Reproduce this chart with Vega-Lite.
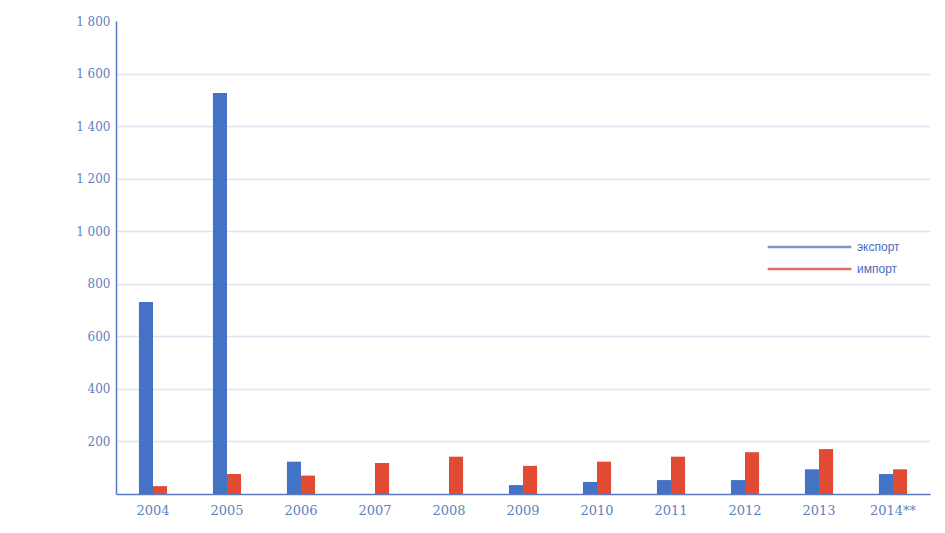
{
  "$schema": "https://vega.github.io/schema/vega-lite/v6.json",
  "width": 814,
  "height": 473,
  "autosize": "none",
  "padding": {"left": 116, "top": 21, "right": 15, "bottom": 39},
  "background": "white",
  "data": {
    "values": [
      {"year": "2004", "type": "экспорт", "value": 731},
      {"year": "2004", "type": "импорт", "value": 30},
      {"year": "2005", "type": "экспорт", "value": 1526},
      {"year": "2005", "type": "импорт", "value": 76},
      {"year": "2006", "type": "экспорт", "value": 123},
      {"year": "2006", "type": "импорт", "value": 70},
      {"year": "2007", "type": "экспорт", "value": 0},
      {"year": "2007", "type": "импорт", "value": 118},
      {"year": "2008", "type": "экспорт", "value": 0},
      {"year": "2008", "type": "импорт", "value": 142},
      {"year": "2009", "type": "экспорт", "value": 34},
      {"year": "2009", "type": "импорт", "value": 107},
      {"year": "2010", "type": "экспорт", "value": 46},
      {"year": "2010", "type": "импорт", "value": 123},
      {"year": "2011", "type": "экспорт", "value": 53},
      {"year": "2011", "type": "импорт", "value": 142},
      {"year": "2012", "type": "экспорт", "value": 53},
      {"year": "2012", "type": "импорт", "value": 159},
      {"year": "2013", "type": "экспорт", "value": 94},
      {"year": "2013", "type": "импорт", "value": 171},
      {"year": "2014**", "type": "экспорт", "value": 76},
      {"year": "2014**", "type": "импорт", "value": 94}
    ]
  },
  "mark": {"type": "bar"},
  "encoding": {
    "x": {
      "field": "year",
      "type": "nominal",
      "sort": null,
      "scale": {"paddingInner": 0.62, "paddingOuter": 0.31},
      "axis": {
        "title": null,
        "labelAngle": 0,
        "labelFont": "DejaVu Serif",
        "labelFontSize": 13,
        "labelColor": "#5f7fc0",
        "labelPadding": 10,
        "ticks": false,
        "domainColor": "#5b78c0",
        "domainWidth": 1.5,
        "grid": false
      }
    },
    "xOffset": {
      "field": "type",
      "type": "nominal",
      "sort": ["экспорт", "импорт"],
      "scale": {"paddingInner": 0, "paddingOuter": 0}
    },
    "y": {
      "field": "value",
      "type": "quantitative",
      "scale": {"domain": [0, 1800], "nice": false},
      "axis": {
        "title": null,
        "values": [200, 400, 600, 800, 1000, 1200, 1400, 1600, 1800],
        "labelExpr": "replace(format(datum.value, ','), ',', ' ')",
        "labelFont": "DejaVu Serif",
        "labelFontSize": 12,
        "labelColor": "#5f7fc0",
        "labelPadding": 6,
        "ticks": false,
        "domainColor": "#5b78c0",
        "domainWidth": 1.5,
        "grid": true,
        "gridColor": "#dfe4f0",
        "gridWidth": 1.5,
        "gridOpacity": {"condition": {"test": "datum.value == 1800", "value": 0}, "value": 1}
      }
    },
    "color": {
      "field": "type",
      "type": "nominal",
      "scale": {"domain": ["экспорт", "импорт"], "range": ["#4472c4", "#e24b33"]},
      "legend": {
        "title": null,
        "orient": "none",
        "legendX": 650,
        "legendY": 218,
        "symbolType": "stroke",
        "symbolSize": 7000,
        "symbolStrokeWidth": 2.5,
        "clipHeight": 16,
        "labelFont": "Liberation Sans",
        "labelFontSize": 12,
        "labelColor": "#4a6cc0",
        "rowPadding": 6,
        "labelOffset": 4,
        "encode": {
          "symbols": {"update": {"stroke": {"signal": "datum.value == 'экспорт' ? '#8096c2' : '#e8676a'"}}}
        }
      }
    }
  },
  "config": {"view": {"stroke": null}}
}
